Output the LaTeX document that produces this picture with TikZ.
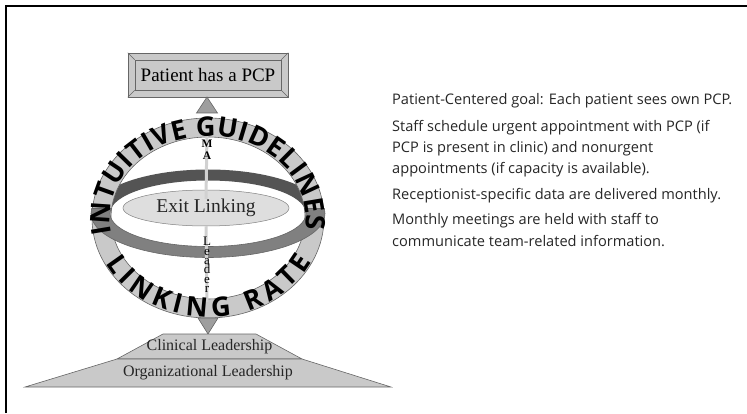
\documentclass[tikz,border=0pt]{standalone}
\usepackage{fontspec}
\setmainfont{Liberation Serif}
\newfontfamily\notefont{Open Sans}
\newfontfamily\ringfont{Open Sans}
\usetikzlibrary{shapes,positioning,calc,decorations.text}
\usepackage{xcolor}
\definecolor{ringgray}{gray}{0.79}
\definecolor{backgray}{gray}{0.33}
\definecolor{frontgray}{gray}{0.5}
\definecolor{lensgray}{gray}{0.87}
\definecolor{tipgray}{gray}{0.62}
\definecolor{edgegray}{gray}{0.4}

\begin{document}
\begin{tikzpicture}[x=1pt,y=1pt]
      \tikzstyle{obj}=[draw=edgegray, fill=ringgray, line width=0.6pt];
      \tikzstyle{note}=[anchor=base west, inner sep=0pt, align=left,
        font=\notefont\fontsize{14.6}{21.5}\selectfont, text=black!85];
      \tikzstyle{spoke}=[draw=ringgray!85!white, line width=3pt];
      \tikzstyle{stack}=[inner sep=0pt, align=center];

      \useasboundingbox (0,0) rectangle (747,413);
      \draw[line width=1.5pt] (6,0) -- (6,407) -- (747,407);

      % top goal box
      \node (pcp) at (208,338)[obj, minimum width=160pt, minimum height=44pt]{};
      \node (pcpin) at (pcp)[obj, minimum width=146pt, minimum height=30pt,
        font=\fontsize{19}{19}\selectfont]{Patient has a PCP};
      \draw[edgegray] (pcp.north west) -- (pcpin.north west);
      \draw[edgegray] (pcp.north east) -- (pcpin.north east);
      \draw[edgegray] (pcp.south west) -- (pcpin.south west);
      \draw[edgegray] (pcp.south east) -- (pcpin.south east);

      \coordinate (hub) at (208,195);
      \coordinate (band) at (208,199.5);

      % back half of the band
      \begin{scope}
        \clip (80,205) rectangle (340,260);
        \fill[backgray, even odd rule] (band) ellipse [x radius=117pt, y radius=44pt]
          (band) ellipse [x radius=98pt, y radius=33pt];
      \end{scope}

      % ring
      \filldraw[obj, even odd rule] (hub) ellipse [x radius=116pt, y radius=100pt]
        (hub) ellipse [x radius=97pt, y radius=81pt];

      % front half of the band
      \begin{scope}
        \clip (80,205) rectangle (340,140);
        \filldraw[draw=edgegray, fill=frontgray, even odd rule, line width=0.6pt]
          (band) ellipse [x radius=117pt, y radius=44pt]
          (band) ellipse [x radius=98pt, y radius=33pt];
      \end{scope}
      \draw[edgegray, line width=0.6pt] (92,205) -- (112,205);
      \draw[edgegray, line width=0.6pt] (304,205) -- (324,205);

      % lens
      \node (exit) at (206,205)[ellipse, draw=gray, fill=lensgray, line width=0.5pt,
        minimum width=166pt, minimum height=36pt]{};

      \coordinate (spoketop) at (207,281);
      \coordinate (spokebot) at (207,111);
      \draw[spoke] (spoketop) -- ([yshift=9pt]exit.center);
      \draw[spoke] (exit.south) -- (spokebot);
      \node (exittext) at (exit)[font=\fontsize{19.5}{19.5}\selectfont, text=black!85]{Exit Linking};

      \node (ma) at (207,263)[stack, font=\bfseries\fontsize{11.5}{12}\selectfont]{M\\A};
      \node (leader) at (207,148)[stack, font=\fontsize{13}{9.4}\selectfont]{L\\e\\a\\d\\e\\r};

      % ring texts
      \coordinate (tg) at ($(hub)+(191:98pt and 82pt)$);
      \path[decorate, decoration={text along path, text align={fit to path},
        text={|\ringfont\bfseries\fontsize{27}{27}\selectfont|INTUITIVE GUIDELINES}}]
        (tg) arc [start angle=191, end angle=-8, x radius=98pt, y radius=82pt];
      \coordinate (lr) at ($(hub)+(207:115pt and 99pt)$);
      \path[decorate, decoration={text along path, text align={fit to path},
        text={|\ringfont\bfseries\fontsize{27}{27}\selectfont|LINKING RATE}}]
        (lr) arc [start angle=207, end angle=334, x radius=115pt, y radius=99pt];

      % pointers
      \coordinate (uptip) at (207,316);
      \filldraw[obj, fill=tipgray] (uptip) -- ++(-10.5,-16) -- ++(21,0) -- cycle;
      \coordinate (downtip) at (208,79);
      \filldraw[obj, fill=tipgray] (downtip) -- ++(-10,16) -- ++(20,0) -- cycle;

      % leadership base
      \filldraw[obj] (163,79) -- (256,79) -- (302,54) -- (117,54) -- cycle;
      \filldraw[obj] (117,54) -- (302,54) -- (391,26) -- (25,26) -- cycle;
      \node (clin) at (209.5,66)[font=\fontsize{16}{16}\selectfont, text=black!85]{Clinical Leadership};
      \node (org) at (208,40)[font=\fontsize{16}{16}\selectfont, text=black!85]{Organizational Leadership};

      % notes
      \node (goal) at (392,308)[note]{Patient-Centered goal: Each patient sees own PCP.};
      \node (sched) at (392,239)[note]{Staff schedule urgent appointment with PCP (if\\
        PCP is present in clinic) and nonurgent\\appointments (if capacity is available).};
      \node (data) at (392,213)[note]{Receptionist-specific data are delivered monthly.};
      \node (meet) at (392,167)[note]{Monthly meetings are held with staff to\\
        communicate team-related information.};

    \end{tikzpicture}
\end{document}
